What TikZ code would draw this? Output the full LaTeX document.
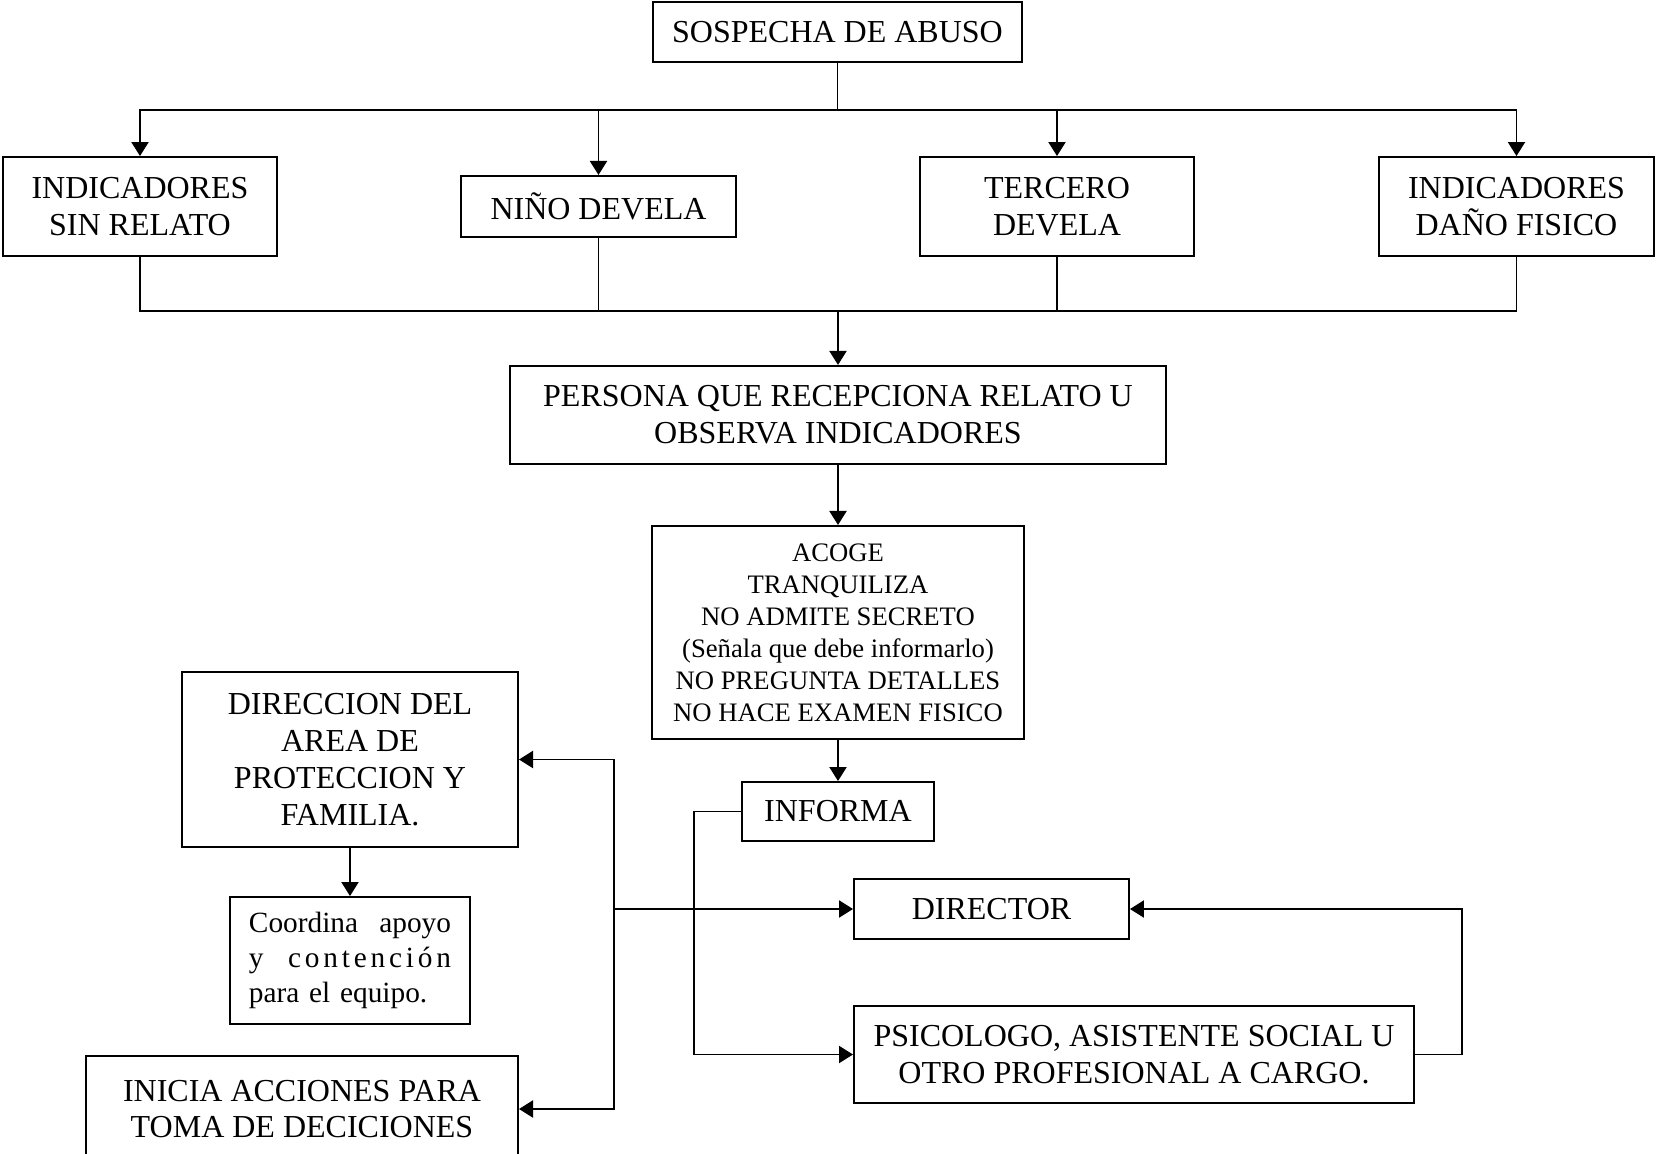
\documentclass[tikz,border=0pt]{standalone}
\usepackage{fontspec}
\setmainfont{Liberation Serif}
\usetikzlibrary{arrows.meta}

\begin{document}
\begin{tikzpicture}[x=0.375pt, y=-0.375pt,
    box/.style={draw, line width=0.75pt, inner sep=0pt, align=center, font=\fontsize{12}{13.8}\selectfont},
    line/.style={line width=0.7pt},
    arr/.style={line, -{Triangle[length=5.25pt,width=6.4pt]}}]
    \clip (0,0) rectangle (1656,1153);

    \node[box, minimum width=138.4pt, minimum height=22.5pt] (sospecha) at (837.5, 32) {SOSPECHA DE ABUSO};

    \node[box, minimum width=102.8pt, minimum height=37.1pt] (sinrelato) at (140, 206.5) {INDICADORES\\SIN RELATO};
    \node[box, minimum width=103.1pt, minimum height=22.9pt] (nino) at (598.5, 206.5) {NIÑO DEVELA};
    \node[box, minimum width=102.8pt, minimum height=37.1pt] (tercero) at (1057, 206.5) {TERCERO\\DEVELA};
    \node[box, minimum width=103.1pt, minimum height=37.1pt] (danofisico) at (1516.5, 206.5) {INDICADORES\\DAÑO FISICO};

    \node[box, minimum width=246pt, minimum height=36.8pt] (persona) at (838, 415) {PERSONA QUE RECEPCIONA RELATO U\\OBSERVA INDICADORES};
    \node[box, minimum width=139.5pt, minimum height=79.9pt, font=\fontsize{10}{12}\selectfont] (acoge) at (838, 632.5)
        {ACOGE\\TRANQUILIZA\\NO ADMITE SECRETO\\(Señala que debe informarlo)\\NO PREGUNTA DETALLES\\NO HACE EXAMEN FISICO};
    \node[box, minimum width=72pt, minimum height=22.1pt] (informa) at (838, 811.5) {INFORMA};

    \node[box, minimum width=126pt, minimum height=65.6pt] (direccion) at (350, 759.5) {DIRECCION DEL\\AREA DE\\PROTECCION Y\\FAMILIA.};
    \node[box, minimum height=47.6pt, inner xsep=7.1pt, text width=75.8pt, align=left, font=\fontsize{11}{13.1}\selectfont] (coordina) at (350, 960.5)
        {Coordina\hfill apoyo\\y\hfill{\addfontfeatures{LetterSpace=13}contención}\\para el equipo.};
    \node[box, minimum width=162pt, minimum height=39.8pt] (inicia) at (302, 1109) {INICIA ACCIONES PARA\\TOMA DE DECICIONES};

    \node[box, minimum width=103.1pt, minimum height=22.5pt] (director) at (991.5, 909) {DIRECTOR};
    \node[box, minimum width=210pt, minimum height=36.4pt] (psicologo) at (1134, 1054.5) {PSICOLOGO, ASISTENTE SOCIAL U\\OTRO PROFESIONAL A CARGO.};

    \coordinate (topbus) at (837.5, 110);
    \coordinate (botbus) at (838, 311);
    \coordinate (jr) at (694, 909);
    \coordinate (jl) at (614, 909);
    \coordinate (ret) at (1462, 909);

    % Arrows
    \draw[line] (sospecha) -- (topbus);
    \draw[arr] (topbus) -| (sinrelato);
    \draw[arr] (topbus) -| (nino);
    \draw[arr] (topbus) -| (tercero);
    \draw[arr] (topbus) -| (danofisico);

    \draw[line] (sinrelato) |- (botbus);
    \draw[line] (nino) |- (botbus);
    \draw[line] (tercero) |- (botbus);
    \draw[line] (danofisico) |- (botbus);
    \draw[arr] (botbus) -- (persona);

    \draw[arr] (persona) -- (acoge);
    \draw[arr] (acoge) -- (informa);

    \draw[line] (informa) -| (jr);
    \draw[arr] (jr) -- (director);
    \draw[arr] (jr) |- (psicologo);
    \draw[line] (jr) -- (jl);
    \draw[arr] (jl) |- (direccion);
    \draw[arr] (jl) |- (inicia);
    \draw[arr] (direccion) -- (coordina);

    \draw[arr] (psicologo) -| (ret) -- (director);

\end{tikzpicture}
\end{document}
